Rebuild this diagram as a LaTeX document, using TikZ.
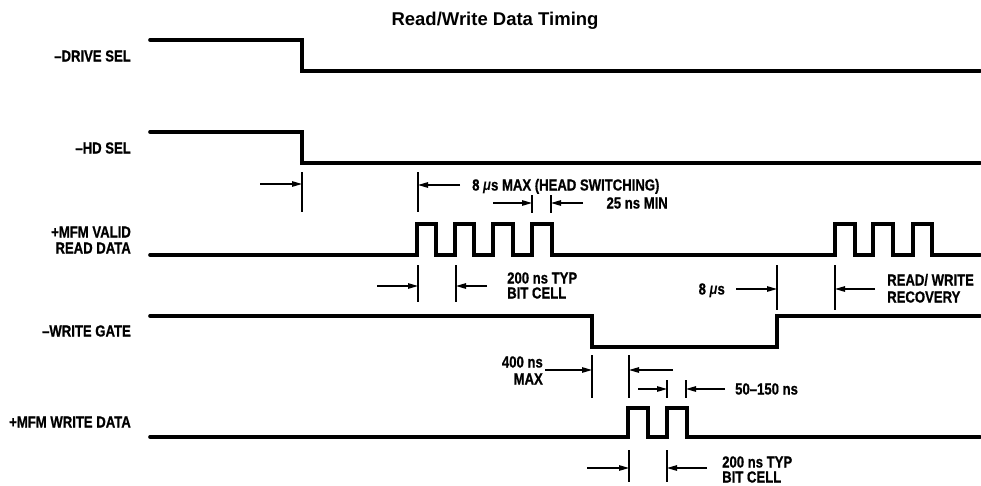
\documentclass[tikz,border=0pt]{standalone}
\usepackage{fontspec}
\setmainfont{Liberation Sans}
\newfontfamily\condfont[FakeStretch=0.82, BoldFeatures={FakeBold=0.8}]{Liberation Sans}
\usetikzlibrary{arrows.meta}
\begin{document}
\begin{tikzpicture}[x=1pt,y=-1pt,
  wave/.style={line width=3.6pt, line join=miter, line cap=round},
  tickln/.style={line width=1.2pt},
  dimarrow/.style={line width=1.2pt, -{Triangle[length=10pt,width=5.5pt]}},
  lbl/.style={inner sep=0pt, font=\condfont\bfseries\fontsize{16}{16}\selectfont},
  ttl/.style={inner sep=0pt, font=\bfseries\fontsize{18.5}{20}\selectfont}]
\useasboundingbox (0,0) rectangle (981,485);

% title
\node[ttl, anchor=base] (title) at (495,25) {Read/Write Data Timing};

% signal labels
\node[lbl, anchor=base east] (ldrv) at (131,61.5) {–DRIVE SEL};
\node[lbl, anchor=base east] (lhd) at (131,153.5) {–HD SEL};
\node[lbl, anchor=base east] (lrd1) at (131,237.5) {+MFM VALID};
\node[lbl, anchor=base east] (lrd2) at (131,253.5) {READ DATA};
\node[lbl, anchor=base east] (lwg) at (131,336.5) {–WRITE GATE};
\node[lbl, anchor=base east] (lwd) at (131,427.5) {+MFM WRITE DATA};

% waveforms
\draw[wave] (150,40) -- (302,40) -- (302,71) -- (980,71);
\draw[wave] (150,132) -- (302,132) -- (302,163) -- (980,163);
\draw[wave] (150,255)
  -- (417,255) -- (417,224) -- (436,224) -- (436,255)
  -- (455,255) -- (455,224) -- (474,224) -- (474,255)
  -- (493,255) -- (493,224) -- (513,224) -- (513,255)
  -- (532,255) -- (532,224) -- (552,224) -- (552,255)
  -- (835,255) -- (835,224) -- (855,224) -- (855,255)
  -- (873,255) -- (873,224) -- (893,224) -- (893,255)
  -- (913,255) -- (913,224) -- (932,224) -- (932,255)
  -- (980,255);
\draw[wave] (150,316) -- (592,316) -- (592,347) -- (777,347) -- (777,316) -- (980,316);
\draw[wave] (150,437)
  -- (628,437) -- (628,408) -- (648,408) -- (648,437)
  -- (667,437) -- (667,408) -- (687,408) -- (687,437)
  -- (980,437);

% ticks
\foreach \n/\x/\ya/\yb in {1/302/172/212, 2/418/172/212, 3/532/195/213, 4/551/195/213,
  5/418/265/302, 6/456/265/302, 7/777/265/310, 8/835/265/310,
  9/592/355/398, 10/629/355/398, 11/667/380/398, 12/686/380/398,
  13/629/450/482, 14/667/450/482}{
  \coordinate (tk\n a) at (\x,\ya);
  \coordinate (tk\n b) at (\x,\yb);
  \draw[tickln] (tk\n a) -- (tk\n b);
}
% dimension arrows
\foreach \n/\x/\y in {1/260/184, 2/460/185, 3/493/203, 4/583/203,
  5/377/286, 6/487/286, 7/736/289, 8/875/289,
  9/545/370, 10/673/370, 11/638/389, 12/725/389,
  13/587/468, 14/707/468}{
  \coordinate (ar\n) at (\x,\y);
  \draw[dimarrow] (ar\n) -- (ar\n -| tk\n a);
}

% annotations
\node[lbl, anchor=base west] (hsw) at (472,190.5) {8 {\itshape μ}s MAX (HEAD SWITCHING)};
\node[lbl, anchor=base east] (min) at (668,208.5) {25 ns MIN};
\node[lbl, anchor=base west] (bc1a) at (507,283.5) {200 ns TYP};
\node[lbl, anchor=base west] (bc1b) at (507,298.5) {BIT CELL};
\node[lbl, anchor=base east] (eus) at (725,294.5) {8 {\itshape μ}s};
\node[lbl, anchor=base west] (rwr1) at (887,285.5) {READ/ WRITE};
\node[lbl, anchor=base west] (rwr2) at (887,302.5) {RECOVERY};
\node[lbl, anchor=base east] (fmx1) at (543,367.5) {400 ns};
\node[lbl, anchor=base east] (fmx2) at (543,384.5) {MAX};
\node[lbl, anchor=base west] (ftn) at (735,394.5) {50–150 ns};
\node[lbl, anchor=base west] (bc2a) at (722,467.5) {200 ns TYP};
\node[lbl, anchor=base west] (bc2b) at (722,482.5) {BIT CELL};
\end{tikzpicture}
\end{document}
